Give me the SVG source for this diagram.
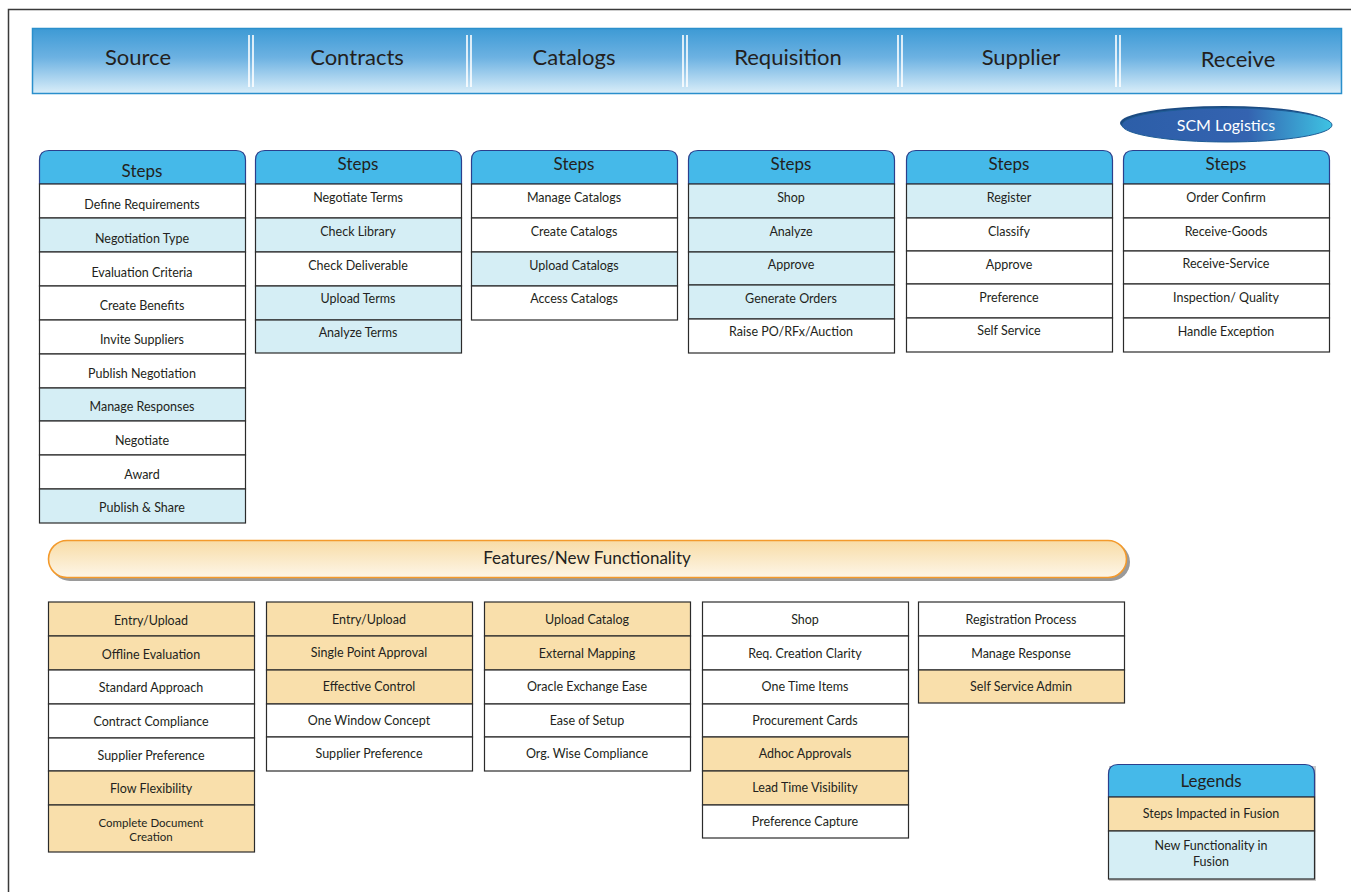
<svg xmlns="http://www.w3.org/2000/svg" width="1351" height="892" viewBox="0 0 1351 892">
<defs>
<linearGradient id="hdrGrad" x1="0" y1="0" x2="0" y2="1">
<stop offset="0" stop-color="#3d9ad5"/>
<stop offset="0.45" stop-color="#6db2e2"/>
<stop offset="1" stop-color="#daeef9"/>
</linearGradient>
<linearGradient id="featGrad" x1="0" y1="0" x2="0" y2="1">
<stop offset="0" stop-color="#f8dca6"/>
<stop offset="1" stop-color="#fdf6e8"/>
</linearGradient>
<linearGradient id="scmGrad" x1="0" y1="0" x2="1" y2="0">
<stop offset="0" stop-color="#2c5ea8"/>
<stop offset="0.6" stop-color="#3463b0"/>
<stop offset="1" stop-color="#3ec3e3"/>
</linearGradient>
<style>
.t{font-family:"Lato","Liberation Sans",sans-serif;fill:#231f20;text-anchor:middle}
.hdr{font-size:22px}
.stp{font-size:17px}
.row{font-size:12.5px}
.sm{font-size:11.5px}
.cell{stroke:#2b2b2b;stroke-width:1.2}
.w{fill:#ffffff}
.b{fill:#d5eef5}
.o{fill:#f9dfab}
.sh{fill:#45b9e9;stroke:#2b3f8c;stroke-width:1.2}
.sep{stroke:#ffffff;stroke-width:1.6}
</style>
</defs>
<rect width="1351" height="892" fill="#ffffff"/>
<path d="M8.5 892 V9.5 H1351" fill="none" stroke="#3a3a3a" stroke-width="1.5"/>

<g id="header">
<rect x="32.5" y="28.5" width="1309" height="65" fill="url(#hdrGrad)" stroke="#2a8fcc" stroke-width="1.5"/>
<g class="sep">
<line x1="249" y1="35" x2="249" y2="87"/><line x1="253" y1="35" x2="253" y2="87"/>
<line x1="467" y1="35" x2="467" y2="87"/><line x1="471" y1="35" x2="471" y2="87"/>
<line x1="683" y1="35" x2="683" y2="87"/><line x1="687" y1="35" x2="687" y2="87"/>
<line x1="898" y1="35" x2="898" y2="87"/><line x1="902" y1="35" x2="902" y2="87"/>
<line x1="1116" y1="35" x2="1116" y2="87"/><line x1="1120" y1="35" x2="1120" y2="87"/>
</g>
<text class="t hdr" x="138" y="65">Source</text>
<text class="t hdr" x="357" y="65">Contracts</text>
<text class="t hdr" x="574" y="65">Catalogs</text>
<text class="t hdr" x="788" y="65">Requisition</text>
<text class="t hdr" x="1021" y="65">Supplier</text>
<text class="t hdr" x="1238" y="67">Receive</text>
</g>

<g id="scm">
<ellipse cx="1224" cy="123" rx="104" ry="17" fill="#1b4a82"/>
<ellipse cx="1227" cy="125" rx="105" ry="17" fill="url(#scmGrad)" stroke="#1f5d96" stroke-width="1"/>
<text class="t" x="1226" y="131" style="font-size:16px;fill:#ffffff">SCM Logistics</text>
</g>

<g id="steps-source">
<path class="sh" d="M39.5 184 V160 Q39.5 150.5 49 150.5 H236 Q245.5 150.5 245.5 160 V184 Z"/>
<text class="t stp" x="142" y="177">Steps</text>
<rect class="cell w" x="39.5" y="184" width="206" height="34"/>
<rect class="cell b" x="39.5" y="218" width="206" height="34"/>
<rect class="cell w" x="39.5" y="252" width="206" height="34"/>
<rect class="cell w" x="39.5" y="286" width="206" height="34"/>
<rect class="cell w" x="39.5" y="320" width="206" height="34"/>
<rect class="cell w" x="39.5" y="354" width="206" height="34"/>
<rect class="cell b" x="39.5" y="388" width="206" height="33"/>
<rect class="cell w" x="39.5" y="421" width="206" height="34"/>
<rect class="cell w" x="39.5" y="455" width="206" height="34"/>
<rect class="cell b" x="39.5" y="489" width="206" height="34"/>
<text class="t row" x="142" y="208.5">Define Requirements</text>
<text class="t row" x="142" y="242.5">Negotiation Type</text>
<text class="t row" x="142" y="276.5">Evaluation Criteria</text>
<text class="t row" x="142" y="309.5">Create Benefits</text>
<text class="t row" x="142" y="343.5">Invite Suppliers</text>
<text class="t row" x="142" y="377.5">Publish Negotiation</text>
<text class="t row" x="142" y="410.5">Manage Responses</text>
<text class="t row" x="142" y="444.5">Negotiate</text>
<text class="t row" x="142" y="478.5">Award</text>
<text class="t row" x="142" y="511.5">Publish &amp; Share</text>
</g>

<g id="steps-contracts">
<path class="sh" d="M255.5 184 V160 Q255.5 150.5 265 150.5 H452 Q461.5 150.5 461.5 160 V184 Z"/>
<text class="t stp" x="358" y="170">Steps</text>
<rect class="cell w" x="255.5" y="184" width="206" height="34"/>
<rect class="cell b" x="255.5" y="218" width="206" height="34"/>
<rect class="cell w" x="255.5" y="252" width="206" height="34"/>
<rect class="cell b" x="255.5" y="286" width="206" height="34"/>
<rect class="cell b" x="255.5" y="320" width="206" height="33"/>
<text class="t row" x="358" y="201.5">Negotiate Terms</text>
<text class="t row" x="358" y="235.5">Check Library</text>
<text class="t row" x="358" y="269.5">Check Deliverable</text>
<text class="t row" x="358" y="302.5">Upload Terms</text>
<text class="t row" x="358" y="336.5">Analyze Terms</text>
</g>

<g id="steps-catalogs">
<path class="sh" d="M471.5 184 V160 Q471.5 150.5 481 150.5 H668 Q677.5 150.5 677.5 160 V184 Z"/>
<text class="t stp" x="574" y="170">Steps</text>
<rect class="cell w" x="471.5" y="184" width="206" height="34"/>
<rect class="cell w" x="471.5" y="218" width="206" height="34"/>
<rect class="cell b" x="471.5" y="252" width="206" height="34"/>
<rect class="cell w" x="471.5" y="286" width="206" height="34"/>
<text class="t row" x="574" y="201.5">Manage Catalogs</text>
<text class="t row" x="574" y="235.5">Create Catalogs</text>
<text class="t row" x="574" y="269.5">Upload Catalogs</text>
<text class="t row" x="574" y="302.5">Access Catalogs</text>
</g>

<g id="steps-requisition">
<path class="sh" d="M688.5 184 V160 Q688.5 150.5 698 150.5 H885 Q894.5 150.5 894.5 160 V184 Z"/>
<text class="t stp" x="791" y="170">Steps</text>
<rect class="cell b" x="688.5" y="184" width="206" height="34"/>
<rect class="cell b" x="688.5" y="218" width="206" height="34"/>
<rect class="cell b" x="688.5" y="252" width="206" height="33"/>
<rect class="cell b" x="688.5" y="285" width="206" height="34"/>
<rect class="cell w" x="688.5" y="319" width="206" height="34"/>
<text class="t row" x="791" y="201.5">Shop</text>
<text class="t row" x="791" y="235.5">Analyze</text>
<text class="t row" x="791" y="268.5">Approve</text>
<text class="t row" x="791" y="302.5">Generate Orders</text>
<text class="t row" x="791" y="335.5">Raise PO/RFx/Auction</text>
</g>

<g id="steps-supplier">
<path class="sh" d="M906.5 184 V160 Q906.5 150.5 916 150.5 H1103 Q1112.5 150.5 1112.5 160 V184 Z"/>
<text class="t stp" x="1009" y="170">Steps</text>
<rect class="cell b" x="906.5" y="184" width="206" height="34"/>
<rect class="cell w" x="906.5" y="218" width="206" height="33"/>
<rect class="cell w" x="906.5" y="251" width="206" height="33"/>
<rect class="cell w" x="906.5" y="284" width="206" height="34"/>
<rect class="cell w" x="906.5" y="318" width="206" height="34"/>
<text class="t row" x="1009" y="201.5">Register</text>
<text class="t row" x="1009" y="235.5">Classify</text>
<text class="t row" x="1009" y="268.5">Approve</text>
<text class="t row" x="1009" y="301.5">Preference</text>
<text class="t row" x="1009" y="334.5">Self Service</text>
</g>

<g id="steps-receive">
<path class="sh" d="M1123.5 184 V160 Q1123.5 150.5 1133 150.5 H1320 Q1329.5 150.5 1329.5 160 V184 Z"/>
<text class="t stp" x="1226" y="170">Steps</text>
<rect class="cell w" x="1123.5" y="184" width="206" height="34"/>
<rect class="cell w" x="1123.5" y="218" width="206" height="33"/>
<rect class="cell w" x="1123.5" y="251" width="206" height="33"/>
<rect class="cell w" x="1123.5" y="284" width="206" height="34"/>
<rect class="cell w" x="1123.5" y="318" width="206" height="34"/>
<text class="t row" x="1226" y="201.5">Order Confirm</text>
<text class="t row" x="1226" y="235.5">Receive-Goods</text>
<text class="t row" x="1226" y="267.5">Receive-Service</text>
<text class="t row" x="1226" y="301.5">Inspection/ Quality</text>
<text class="t row" x="1226" y="335.5">Handle Exception</text>
</g>

<g id="features-banner">
<rect x="51" y="543" width="1079" height="38" rx="19" fill="#9a9a9a"/>
<rect x="48.5" y="540.5" width="1078" height="37" rx="18.5" fill="url(#featGrad)" stroke="#f39a2c" stroke-width="1.6"/>
<text class="t" x="587" y="564" style="font-size:17px">Features/New Functionality</text>
</g>

<g id="features-source">
<rect class="cell o" x="48.5" y="602" width="206" height="34"/>
<rect class="cell o" x="48.5" y="636" width="206" height="34"/>
<rect class="cell w" x="48.5" y="670" width="206" height="34"/>
<rect class="cell w" x="48.5" y="704" width="206" height="34"/>
<rect class="cell w" x="48.5" y="738" width="206" height="33"/>
<rect class="cell o" x="48.5" y="771" width="206" height="34"/>
<rect class="cell o" x="48.5" y="805" width="206" height="47"/>
<text class="t row" x="151" y="624.5">Entry/Upload</text>
<text class="t row" x="151" y="658.5">Offline Evaluation</text>
<text class="t row" x="151" y="691.5">Standard Approach</text>
<text class="t row" x="151" y="725.5">Contract Compliance</text>
<text class="t row" x="151" y="759.5">Supplier Preference</text>
<text class="t row" x="151" y="792.5">Flow Flexibility</text>
<text class="t sm" x="151" y="827">Complete Document</text>
<text class="t sm" x="151" y="841">Creation</text>
</g>

<g id="features-contracts">
<rect class="cell o" x="266.5" y="602" width="206" height="34"/>
<rect class="cell o" x="266.5" y="636" width="206" height="34"/>
<rect class="cell o" x="266.5" y="670" width="206" height="34"/>
<rect class="cell w" x="266.5" y="704" width="206" height="33"/>
<rect class="cell w" x="266.5" y="737" width="206" height="34"/>
<text class="t row" x="369" y="623.5">Entry/Upload</text>
<text class="t row" x="369" y="656.5">Single Point Approval</text>
<text class="t row" x="369" y="690.5">Effective Control</text>
<text class="t row" x="369" y="724.5">One Window Concept</text>
<text class="t row" x="369" y="757.5">Supplier Preference</text>
</g>

<g id="features-catalogs">
<rect class="cell o" x="484.5" y="602" width="206" height="34"/>
<rect class="cell o" x="484.5" y="636" width="206" height="34"/>
<rect class="cell w" x="484.5" y="670" width="206" height="34"/>
<rect class="cell w" x="484.5" y="704" width="206" height="33"/>
<rect class="cell w" x="484.5" y="737" width="206" height="34"/>
<text class="t row" x="587" y="623.5">Upload Catalog</text>
<text class="t row" x="587" y="657.5">External Mapping</text>
<text class="t row" x="587" y="690.5">Oracle Exchange Ease</text>
<text class="t row" x="587" y="724.5">Ease of Setup</text>
<text class="t row" x="587" y="757.5">Org. Wise Compliance</text>
</g>

<g id="features-requisition">
<rect class="cell w" x="702.5" y="602" width="206" height="34"/>
<rect class="cell w" x="702.5" y="636" width="206" height="34"/>
<rect class="cell w" x="702.5" y="670" width="206" height="34"/>
<rect class="cell w" x="702.5" y="704" width="206" height="33"/>
<rect class="cell o" x="702.5" y="737" width="206" height="34"/>
<rect class="cell o" x="702.5" y="771" width="206" height="34"/>
<rect class="cell w" x="702.5" y="805" width="206" height="33"/>
<text class="t row" x="805" y="623.5">Shop</text>
<text class="t row" x="805" y="657.5">Req. Creation Clarity</text>
<text class="t row" x="805" y="690.5">One Time Items</text>
<text class="t row" x="805" y="724.5">Procurement Cards</text>
<text class="t row" x="805" y="757.5">Adhoc Approvals</text>
<text class="t row" x="805" y="791.5">Lead Time Visibility</text>
<text class="t row" x="805" y="825.5">Preference Capture</text>
</g>

<g id="features-supplier">
<rect class="cell w" x="918.5" y="602" width="206" height="34"/>
<rect class="cell w" x="918.5" y="636" width="206" height="34"/>
<rect class="cell o" x="918.5" y="670" width="206" height="33"/>
<text class="t row" x="1021" y="623.5">Registration Process</text>
<text class="t row" x="1021" y="657.5">Manage Response</text>
<text class="t row" x="1021" y="690.5">Self Service Admin</text>
</g>

<g id="legends">
<rect x="1109" y="766" width="207" height="115" fill="#c8c8c8"/>
<path d="M1108.5 797 V774 Q1108.5 764.5 1118 764.5 H1305 Q1314.5 764.5 1314.5 774 V797 Z" fill="#45b9e9" stroke="#2b3f8c" stroke-width="1.2"/>
<text class="t" x="1211" y="787" style="font-size:17px">Legends</text>
<rect class="cell o" x="1108.5" y="797" width="206" height="34"/>
<rect class="cell b" x="1108.5" y="831" width="206" height="48"/>
<text class="t row" x="1211" y="818">Steps Impacted in Fusion</text>
<text class="t row" x="1211" y="850">New Functionality in</text>
<text class="t row" x="1211" y="866">Fusion</text>
</g>
</svg>
